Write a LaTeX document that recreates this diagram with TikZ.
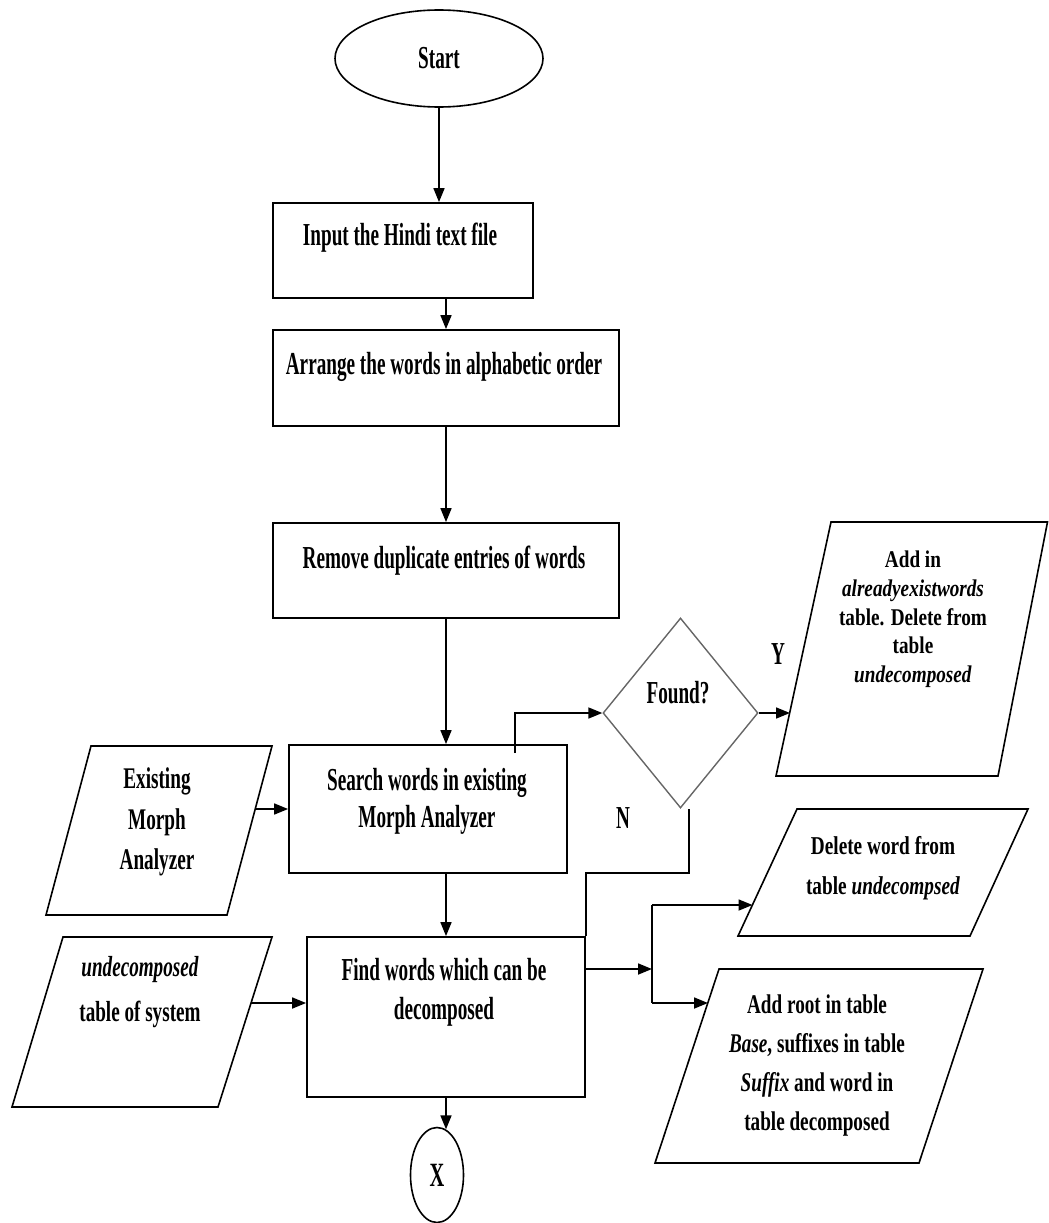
\documentclass[tikz,border=0pt]{standalone}
\usepackage{fontspec}
\setmainfont{Liberation Serif}[FakeStretch=0.60]
\newfontfamily\fA{Liberation Serif}[FakeStretch=0.60]
\newfontfamily\fB{Liberation Serif}[FakeStretch=0.64]
\newfontfamily\fC{Liberation Serif}[FakeStretch=0.66]
\newfontfamily\fD{Liberation Serif}[FakeStretch=0.80]
\newfontfamily\fE{Liberation Serif}[FakeStretch=0.75]
\newfontfamily\fF{Liberation Serif}[FakeStretch=0.71]
\usetikzlibrary{shapes.geometric,arrows.meta}
\begin{document}
\begin{tikzpicture}[x=1pt,y=-1pt,
  box/.style={draw=black, line width=1.8pt, rectangle, inner sep=0pt},
  oval/.style={draw=black, line width=1.6pt, ellipse, inner sep=0pt},
  decision/.style={draw=black!60, line width=1.4pt, diamond, inner sep=0pt},
  para/.style={draw=black, line width=1.6pt, line join=miter},
  bt/.style={align=center, inner sep=0pt, font=\fA\bfseries\fontsize{32}{37}\selectfont},
  arr/.style={line width=1.7pt, -{Triangle[length=14pt,width=11pt]}},
  conn/.style={line width=1.7pt}]
\useasboundingbox (0,0) rectangle (1049,1223);

% main column
\node[oval, minimum width=208pt, minimum height=97pt, font=\fA\bfseries\fontsize{32}{37}\selectfont] (start) at (439,58.5) {Start};
\node[box, minimum width=260pt, minimum height=95pt] (input) at (403,250.5) {};
\node[bt] (inputT) at (400,238) {Input the Hindi text file};
\node[box, minimum width=346pt, minimum height=96pt] (arrange) at (446,378) {};
\node[bt] (arrangeT) at (444,367) {Arrange the words in alphabetic order};
\node[box, minimum width=346pt, minimum height=95pt] (remove) at (446,570.5) {};
\node[bt] (removeT) at (444,561) {Remove duplicate entries of words};
\node[box, minimum width=278pt, minimum height=128pt] (search) at (428,809) {};
\node[bt] (searchT) at (427,801) {Search words in existing\\Morph Analyzer};
\node[box, minimum width=278pt, minimum height=160pt] (find) at (446,1017) {};
\node[bt, font=\fA\bfseries\fontsize{32}{39}\selectfont] (findT) at (444,992.5) {Find words which can be\\decomposed};
\node[oval, minimum width=53pt, minimum height=95pt, font=\fA\bfseries\fontsize{34}{37}\selectfont] (xend) at (437,1175) {X};

% decision
\node[decision, minimum width=155pt, minimum height=190pt] (found) at (680.5,713) {};
\node[bt] (foundT) at (678,693) {Found?};
\node[bt] (ylab) at (778,654) {Y};
\node[bt] (nlab) at (623,818) {N};

% parallelograms
\coordinate (e1) at (91,746); \coordinate (e2) at (272,746);
\coordinate (e3) at (227,915); \coordinate (e4) at (46,915);
\draw[para] (e1) -- (e2) -- (e3) -- (e4) -- cycle;
\node[align=center, inner sep=0pt, font=\fB\bfseries\fontsize{30}{40.5}\selectfont] (existT) at (157,822) {Existing\\Morph\\Analyzer};

\coordinate (u1) at (63,937); \coordinate (u2) at (272,937);
\coordinate (u3) at (218,1107); \coordinate (u4) at (12,1107);
\draw[para] (u1) -- (u2) -- (u3) -- (u4) -- cycle;
\node[align=center, inner sep=0pt, font=\fC\bfseries\fontsize{29}{45}\selectfont] (undecT) at (140,992) {\textit{undecomposed}\\table of system};

\coordinate (a1) at (831,522); \coordinate (a2) at (1047.5,522);
\coordinate (a3) at (998,776); \coordinate (a4) at (776,776);
\draw[para] (a1) -- (a2) -- (a3) -- (a4) -- cycle;
\node[align=center, inner sep=0pt, font=\fD\bfseries\fontsize{24}{28.7}\selectfont] (addinT) at (913,619.5) {Add in\\\textit{alreadyexistwords}\\table. Delete from\\table\\\textit{undecomposed}};

\coordinate (d1) at (797,809); \coordinate (d2) at (1028,809);
\coordinate (d3) at (970,936); \coordinate (d4) at (738,936);
\draw[para] (d1) -- (d2) -- (d3) -- (d4) -- cycle;
\node[align=center, inner sep=0pt, font=\fE\bfseries\fontsize{25.7}{40}\selectfont] (deleteT) at (883,868) {Delete word from\\table \textit{undecompsed}};

\coordinate (r1) at (719,969); \coordinate (r2) at (983,969);
\coordinate (r3) at (919,1163); \coordinate (r4) at (655,1163);
\draw[para] (r1) -- (r2) -- (r3) -- (r4) -- cycle;
\node[align=center, inner sep=0pt, font=\fF\bfseries\fontsize{27}{39}\selectfont] (addrootT) at (817,1065) {Add root in table\\\textit{Base}, suffixes in table\\\textit{Suffix} and word in\\table decomposed};

% connector end points
\coordinate (existR) at (255,809);
\coordinate (undecR) at (251,1003);
\coordinate (sfork) at (515,753);
\coordinate (addinL) at (790,713);
\coordinate (nstart) at (689,809);
\coordinate (nbend) at (689,873);
\coordinate (bar) at (652,969);
\coordinate (bartop) at (652,905);
\coordinate (barbot) at (652,1003);
\coordinate (deleteL) at (752.5,905);
\coordinate (addrootL) at (708,1003);

% connectors
\draw[arr] (start.south) -- (start.south |- input.north);
\draw[arr] (input.south -| arrange.north) -- (arrange.north);
\draw[arr] (arrange.south) -- (remove.north);
\draw[arr] (remove.south) -- (remove.south |- search.north);
\draw[arr] (search.south -| find.north) -- (find.north);
\draw[arr] (find.south) -- (find.south |- xend.79);
\draw[arr] (existR) -- (search.west);
\draw[arr] (undecR) -- (undecR -| find.west);
\draw[arr] (sfork) |- (found.west);
\draw[arr] (found.east) -- (addinL);
\draw[conn] (nstart) -- (nbend) -| (find.north east);
\draw[arr] (find.east |- bar) -- (bar);
\draw[conn] (bartop) -- (barbot);
\draw[arr] (bartop) -- (deleteL);
\draw[arr] (barbot) -- (addrootL);
\end{tikzpicture}
\end{document}
